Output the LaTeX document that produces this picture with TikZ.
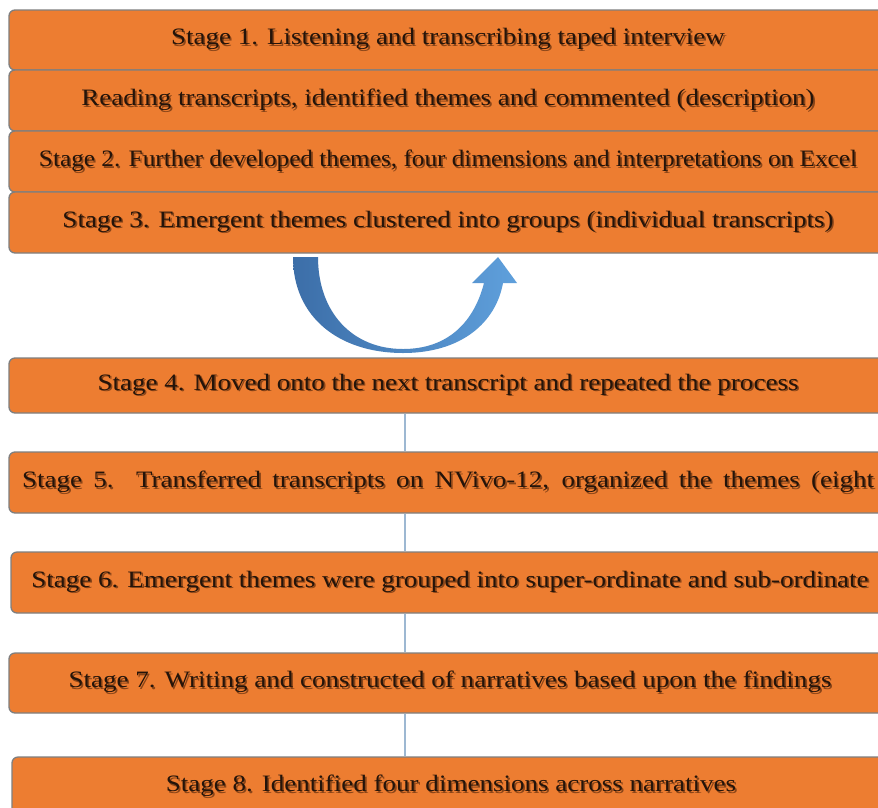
\documentclass[tikz,border=0pt]{standalone}
\usepackage{fontspec}
\setmainfont{Liberation Serif}[FakeStretch=1.15]
\definecolor{boxorange}{HTML}{ED7D31}
\definecolor{boxedge}{HTML}{7F7F7F}
\definecolor{txt}{HTML}{24140A}
\definecolor{shad}{HTML}{8A4518}
\definecolor{conncol}{HTML}{9DB8D2}
\definecolor{arrowdark}{HTML}{3C6EA8}
\definecolor{arrowlight}{HTML}{5FA0DC}
\newcommand{\shtext}[1]{\rlap{\raisebox{-1.6pt}{\hspace{1.6pt}\color{shad}#1}}#1}
\tikzset{
  stagebox/.style={fill=boxorange, draw=boxedge, line width=1.3pt, rounded corners=6pt,
    inner sep=0pt, minimum width=878pt, text=txt, font=\fontsize{23.5}{26}\selectfont},
  conn/.style={draw=conncol, line width=1.1pt},
}
\begin{document}
\begin{tikzpicture}[x=1pt,y=-1pt]
\useasboundingbox (0,0) rectangle (878,807);
\fill[white] (0,0) rectangle (878,807);
\clip (0,0) rectangle (878,807);
% top stack
\node[stagebox, minimum height=60pt] (s1) at (448,40) {\shtext{Stage 1. Listening and transcribing taped interview}};
\node[stagebox, minimum height=61pt] (s1b) at (448,100.5) {\shtext{Reading transcripts, identified themes and commented (description)}};
\node[stagebox, minimum height=61pt] (s2) at (448,161.5) {\shtext{\resizebox{818pt}{\height}{Stage 2. Further developed themes, four dimensions and interpretations on Excel}}};
\node[stagebox, minimum height=61pt] (s3) at (448,222.5) {\shtext{Stage 3. Emergent themes clustered into groups (individual transcripts)}};
% curved arrow
\path[left color=arrowdark, right color=arrowlight]
  (293,257) .. controls (293,318) and (340,353) .. (403,353)
  .. controls (462,353) and (496,322) .. (503,283)
  -- (517,283) -- (498,257) -- (472,283) -- (484,283)
  .. controls (474,322) and (448,349) .. (403,349)
  .. controls (352,349) and (318,312) .. (318,257) -- cycle;
% lower stages
\node[stagebox, minimum height=55pt] (s4) at (448,385.5) {\shtext{Stage 4. Moved onto the next transcript and repeated the process}};
\node[stagebox, minimum height=61pt] (s5) at (448,482.5) {\shtext{\makebox[852pt][s]{Stage 5. Transferred transcripts on NVivo-12, organized the themes (eight}}};
\node[stagebox, minimum height=61pt] (s6) at (450,582.5) {\shtext{Stage 6. Emergent themes were grouped into super-ordinate and sub-ordinate}};
\node[stagebox, minimum height=60pt] (s7) at (448,683) {\shtext{\hspace{4pt}Stage 7. Writing and constructed of narratives based upon the findings}};
\node[stagebox, minimum height=60pt] (s8) at (451,787) {\shtext{Stage 8. Identified four dimensions across narratives}};
\coordinate (cx) at (405,0);
\draw[conn] (s4.south -| cx) -- (s5.north -| cx);
\draw[conn] (s5.south -| cx) -- (s6.north -| cx);
\draw[conn] (s6.south -| cx) -- (s7.north -| cx);
\draw[conn] (s7.south -| cx) -- (s8.north -| cx);
\end{tikzpicture}
\end{document}
